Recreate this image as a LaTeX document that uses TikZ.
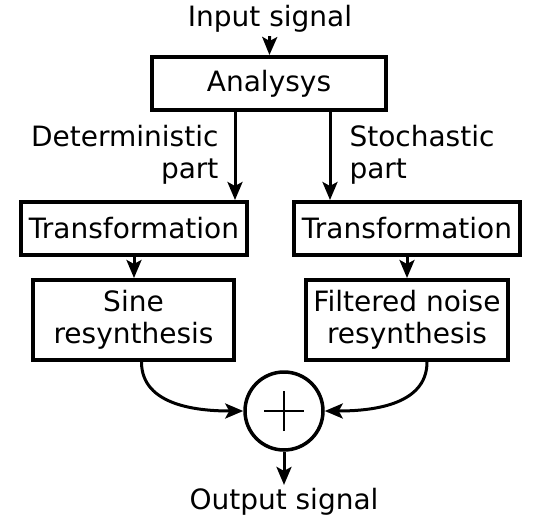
\documentclass[tikz,border=0pt]{standalone}
\usepackage{fontspec}
\setmainfont{DejaVu Sans}
\usetikzlibrary{arrows.meta}
\tikzset{every node/.style={font=\fontsize{28}{32}\selectfont}}
\tikzset{block/.style={draw, line width=4pt, inner sep=0pt, align=center}}
\tikzset{link/.style={-{Stealth[length=18pt, width=15pt, inset=4pt]}, line width=3pt}}

\begin{document}
\begin{tikzpicture}[x=1pt, y=-1pt]
  \useasboundingbox (0,0) rectangle (549,522);

  % Input and analysis.
  \node (in) at (270,19) {Input signal};
  \node[block, minimum width=234pt, minimum height=53pt] (ana) at (269,83.5) {Analysys};

  % Two branches.
  \node[block, minimum width=226pt, minimum height=53pt] (tl) at (134,228.5) {Transformation};
  \node[block, minimum width=226pt, minimum height=53pt] (tr) at (407,228.5) {Transformation};
  \node[block, minimum width=201pt, minimum height=80pt] (sine) at (133.5,320) {Sine\\resynthesis};
  \node[block, minimum width=202pt, minimum height=80pt] (noise) at (407,320) {Filtered noise\\resynthesis};

  % Sum and output.
  \node[draw, circle, line width=3.5pt, minimum size=78pt, inner sep=0pt] (sum) at (284,411) {};
  \draw[line width=2.5pt] ([xshift=-20pt]sum.center) -- ([xshift=20pt]sum.center);
  \draw[line width=2.5pt] ([yshift=-20pt]sum.center) -- ([yshift=20pt]sum.center);
  \node (out) at (284,502) {Output signal};

  % Branch labels.
  \node[anchor=east, align=right] (det) at (222,155) {Deterministic\\part};
  \node[anchor=west, align=left] (sto) at (346,155) {Stochastic\\part};

  % Connectors.
  \draw[link] (in) -- (ana);
  \draw[link] (ana.south -| tl.north east) ++(-14,0) coordinate (a1) -- (a1 |- tl.north);
  \draw[link] (ana.south -| tr.north west) ++(38,0) coordinate (a2) -- (a2 |- tr.north);
  \draw[link] (tl) -- (tl |- sine.north);
  \draw[link] (tr) -- (tr |- noise.north);
  \draw[link] ([xshift=8pt]sine.south) to[out=-90, in=180] (sum.west);
  \draw[link] ([xshift=20pt]noise.south) to[out=-90, in=0] (sum.east);
  \draw[link] (sum) -- (out);

\end{tikzpicture}
\end{document}
